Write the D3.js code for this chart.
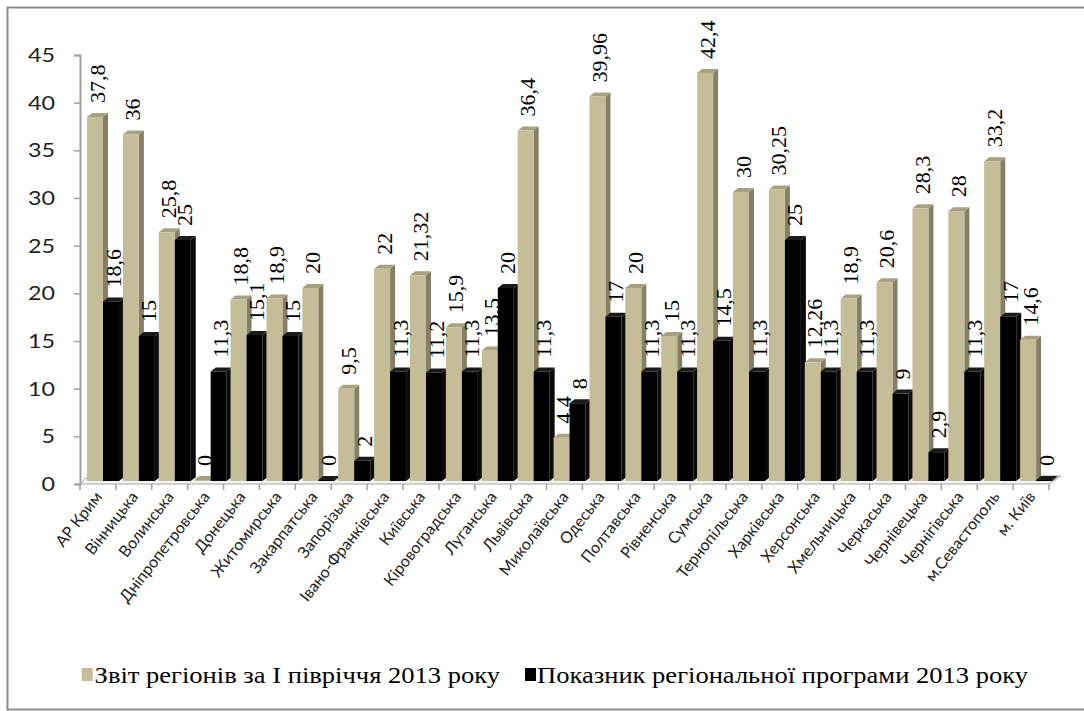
<!DOCTYPE html>
<html>
<head>
<meta charset="utf-8">
<script src="https://cdn.jsdelivr.net/npm/d3@7"></script>
<style>
  body { margin: 0; background: #fff; }
  .serif { font-family: "Liberation Serif", "Times New Roman", serif; }
  .sans { font-family: "Lato", "Open Sans", sans-serif; }
</style>
</head>
<body>
<div id="chart"></div>
<script>
const regions = ["АР Крим", "Вінницька", "Волинська", "Дніпропетровська", "Донецька", "Житомирська",
  "Закарпатська", "Запорізька", "Івано-Франківська", "Київська", "Кіровоградська", "Луганська",
  "Львівська", "Миколаївська", "Одеська", "Полтавська", "Рівненська", "Сумська", "Тернопільська",
  "Харківська", "Херсонська", "Хмельницька", "Черкаська", "Чернівецька", "Чернігівська",
  "м.Севастополь", "м. Київ"];
const reportValues = [37.8, 36, 25.8, 0, 18.8, 18.9, 20, 9.5, 22, 21.32, 15.9, 13.5, 36.4, 4.4,
  39.96, 20, 15, 42.4, 30, 30.25, 12.26, 18.9, 20.6, 28.3, 28, 33.2, 14.6];
const programValues = [18.6, 15, 25, 11.3, 15.1, 15, 0, 2, 11.3, 11.2, 11.3, 20, 11.3, 8,
  17, 11.3, 11.3, 14.5, 11.3, 25, 11.3, 11.3, 9, 2.9, 11.3, 17, 0];
const yTicks = [0, 5, 10, 15, 20, 25, 30, 35, 40, 45];
const seriesNames = ["Звіт регіонів за І півріччя 2013 року", "Показник регіональної програми 2013 року"];

const width = 1084, height = 711;
const colors = [
  {front: "#c4bd97", top: "#a7a182", side: "#858063"},
  {front: "#000000", top: "#1a1a1a", side: "#0a0a0a"}
];
const depth = {dx: 5, dy: 4};

const svg = d3.select("#chart").append("svg").attr("width", width).attr("height", height);

// frame
svg.append("rect").attr("x", 7.5).attr("y", 7.5).attr("width", 1090).attr("height", 702)
  .attr("fill", "#fff").attr("stroke", "#8c8c8c").attr("stroke-width", 2);

const x = d3.scaleBand().domain(regions).range([80, 1049]);
const inner = d3.scaleBand().domain([0, 1]).range([7, 39]);
const yAxisScale = d3.scaleLinear().domain([0, 45]).range([484, 55]);
const yBar = d3.scaleLinear().domain([0, 45]).range([481, 49]);

// floor
const x0 = x.range()[0], x1 = x.range()[1], fy = yAxisScale(0);
svg.append("polygon")
  .attr("points", [[x0, fy], [x1, fy], [x1 + 12, fy - 8], [x0 + 6, fy - 6]].join(" "))
  .attr("fill", "#f4f4f4").attr("stroke", "#a6a6a6").attr("stroke-width", 1);

// y axis
const yAxis = svg.append("g").attr("transform", `translate(${x0},0)`)
  .call(d3.axisLeft(yAxisScale).tickValues(yTicks).tickSize(6).tickPadding(19));
yAxis.attr("font-family", null).attr("font-size", null);
yAxis.select(".domain").attr("stroke", "#a0a0a0").attr("stroke-width", 2);
yAxis.selectAll(".tick line").attr("stroke", "#a0a0a0").attr("stroke-width", 1.5);
yAxis.selectAll(".tick text").attr("class", "sans")
  .style("font-size", "20px").attr("fill", "#222")
  .attr("textLength", d => String(d).length * 13.5).attr("lengthAdjust", "spacingAndGlyphs");

// x ticks at category boundaries
const bounds = regions.map(r => x(r)).concat([x1]);
svg.append("g").selectAll("line").data(bounds).join("line")
  .attr("x1", d => d).attr("x2", d => d).attr("y1", fy).attr("y2", fy + 6)
  .attr("stroke", "#a0a0a0").attr("stroke-width", 1.5);

// bars
const rows = regions.map((r, i) => ({region: r, values: [reportValues[i], programValues[i]]}));
const groups = svg.append("g").selectAll("g").data(rows).join("g")
  .attr("transform", d => `translate(${x(d.region)},0)`);

const bars = groups.selectAll("g").data(d => d.values.map((v, s) => ({v, s}))).join("g");
bars.each(function(d) {
  const g = d3.select(this);
  const bx = inner(d.s), bw = inner.bandwidth();
  const top = yBar(d.v) - 1, base = yBar(0);
  const c = colors[d.s];
  g.append("polygon")
    .attr("points", [[bx + bw, base], [bx + bw + depth.dx, base - depth.dy], [bx + bw + depth.dx, top - depth.dy], [bx + bw, top]].join(" "))
    .attr("fill", c.side);
  g.append("polygon")
    .attr("points", [[bx, top], [bx + depth.dx, top - depth.dy], [bx + bw + depth.dx, top - depth.dy], [bx + bw, top]].join(" "))
    .attr("fill", c.top);
  g.append("rect").attr("x", bx).attr("y", top).attr("width", bw).attr("height", base - top)
    .attr("fill", c.front);
});

// value labels
const fmt = v => String(v).replace(".", ",");
const labels = svg.append("g");
rows.forEach(d => {
  d.values.forEach((v, s) => {
    const cx = x(d.region) + inner(s) + inner.bandwidth() / 2 + 9.5;
    const cy = yBar(v) - 15;
    labels.append("text").attr("class", "serif")
      .attr("transform", `translate(${cx},${cy}) rotate(-90)`)
      .style("font-size", "22px").attr("fill", "#000")
      .text(fmt(v));
  });
});

// x labels
svg.append("g").selectAll("text").data(regions).join("text")
  .attr("class", "sans")
  .attr("transform", d => `translate(${x(d) + x.bandwidth() / 2 + 5},${fy + 13}) rotate(-52)`)
  .attr("text-anchor", "end")
  .style("font-size", "16px").attr("fill", "#222")
  .text(d => d);

// legend
const legendY = 683;
const t2 = svg.append("text").attr("class", "serif").attr("x", 537).attr("y", legendY)
  .style("font-size", "24px")
  .text(seriesNames[1]);
const t1 = svg.append("text").attr("class", "serif").attr("y", legendY)
  .style("font-size", "24px")
  .text(seriesNames[0]);
const ratio = 491 / t2.node().getComputedTextLength();
const len1 = t1.node().getComputedTextLength() * ratio;
t2.attr("textLength", 491).attr("lengthAdjust", "spacingAndGlyphs");
t1.attr("x", 500 - len1).attr("textLength", len1).attr("lengthAdjust", "spacingAndGlyphs");
svg.append("rect").attr("x", 500 - len1 - 13).attr("y", 668).attr("width", 11).attr("height", 13).attr("fill", colors[0].front);
svg.append("rect").attr("x", 525).attr("y", 668).attr("width", 11).attr("height", 13).attr("fill", colors[1].front);
</script>
</body>
</html>
